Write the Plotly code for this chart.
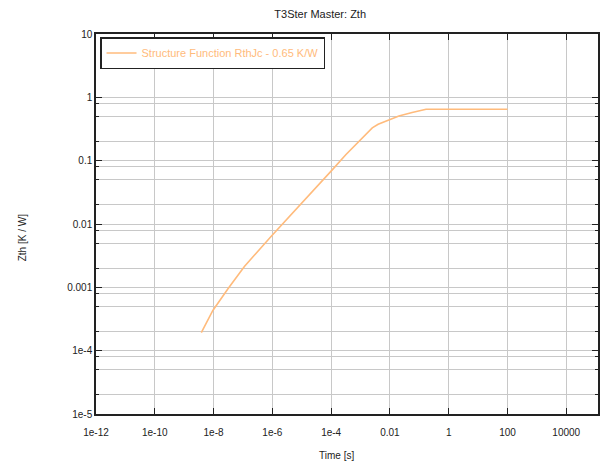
import plotly.graph_objects as go

# Data (Zth curve)
time_s = [3.83e-9, 9.46e-9, 3.05e-8, 1.12e-7, 9.03e-7, 9.4e-6, 5.79e-5, 1.11e-4,
          3.15e-4, 8.89e-4, 1.58e-3, 2.51e-3, 3.98e-3, 7.14e-3, 2.02e-2, 5.7e-2,
          0.17, 100.0]
zth = [1.92e-4, 4.31e-4, 9.44e-4, 2.14e-3, 6.34e-3, 0.0204, 0.0504, 0.0723,
       0.124, 0.201, 0.256, 0.330, 0.376, 0.420, 0.508, 0.575,
       0.65, 0.65]

series_name = "Structure Function RthJc - 0.65 K/W"

x_tickvals = [1e-12, 1e-10, 1e-8, 1e-6, 1e-4, 1e-2, 1, 100, 10000]
x_ticktext = ["1e-12", "1e-10", "1e-8", "1e-6", "1e-4", "0.01", "1", "100", "10000"]
y_tickvals = [1e-5, 1e-4, 1e-3, 1e-2, 1e-1, 1, 10]
y_ticktext = ["1e-5", "1e-4", "0.001", "0.01", "0.1", "1", "10"]
y_minor_factors = [0.2, 0.5, 0.8]

y_minor_vals = [d * f for d in [1e-5, 1e-4, 1e-3, 1e-2, 1e-1, 1] for f in y_minor_factors]

FONT = "Liberation Sans, Arial, sans-serif"
TXT = "#222222"
GRID = "#c8c8c8"
LINE_COLOR = "#ffbb7c"

fig = go.Figure()
fig.add_trace(go.Scatter(
    x=time_s, y=zth, mode="lines", name=series_name,
    line=dict(color=LINE_COLOR, width=1.6),
))

fig.update_layout(
    width=603, height=465,
    margin=dict(l=96, r=3, t=34, b=51),
    paper_bgcolor="white", plot_bgcolor="white",
    font=dict(family=FONT, size=10, color=TXT),
    showlegend=True,
    legend=dict(
        x=0.008, y=0.992, xanchor="left", yanchor="top",
        bgcolor="white", bordercolor="#222222", borderwidth=1.5,
        font=dict(family=FONT, size=11, color=LINE_COLOR),
        itemwidth=30,
    ),
    title=dict(text="T3Ster Master: Zth", x=0.531, xref="container", xanchor="center",
               y=0.97, yref="container", yanchor="middle",
               font=dict(family=FONT, size=11, color=TXT)),
)

fig.update_xaxes(
    type="log", range=[-12, 5.08],
    tickvals=x_tickvals, ticktext=x_ticktext,
    ticks="inside", ticklen=6, tickwidth=1.2, tickcolor="#222222",
    showline=True, linecolor="#222222", linewidth=1.5, mirror="ticks",
    showgrid=True, gridcolor=GRID, gridwidth=1.3,
    zeroline=False, ticklabelstandoff=8,
    tickfont=dict(family=FONT, size=10, color=TXT),
)
fig.update_yaxes(
    type="log", range=[-5, 1],
    tickvals=y_tickvals, ticktext=y_ticktext,
    ticks="inside", ticklen=6, tickwidth=1.2, tickcolor="#222222",
    showline=True, linecolor="#222222", linewidth=1.5, mirror="ticks",
    showgrid=True, gridcolor=GRID, gridwidth=1.3,
    zeroline=False,
    tickfont=dict(family=FONT, size=10, color=TXT),
    minor=dict(tickvals=y_minor_vals, ticks="inside", ticklen=3, tickcolor="#222222",
               showgrid=True, gridcolor=GRID, gridwidth=1.3),
)

fig.add_annotation(text="Time [s]", xref="paper", yref="paper",
                   x=(337 - 96) / 504, y=-(455 - 414) / 380, showarrow=False,
                   xanchor="center", yanchor="middle",
                   font=dict(family=FONT, size=10, color=TXT))
fig.add_annotation(text="Zth [K / W]", xref="paper", yref="paper",
                   x=-(96 - 22) / 504, y=(414 - 238) / 380, showarrow=False,
                   textangle=-90, xanchor="center", yanchor="middle",
                   font=dict(family=FONT, size=10, color=TXT))

fig.write_html("out.html", config={"displayModeBar": False},
               post_script="document.body.style.margin='0';document.body.style.overflow='hidden';")
